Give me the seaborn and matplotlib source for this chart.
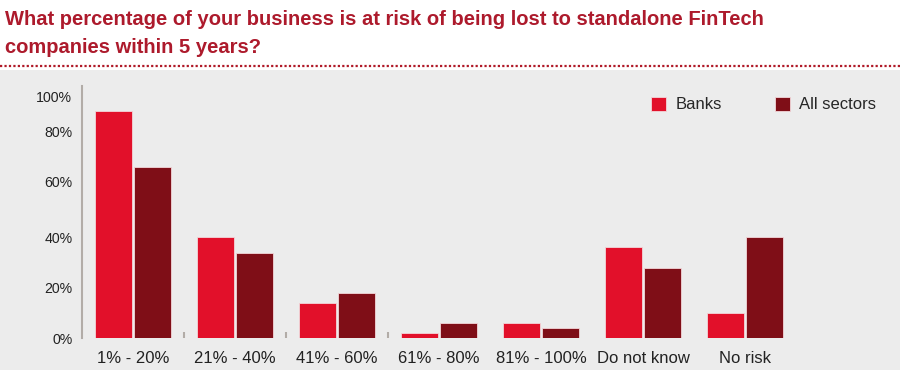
import matplotlib
matplotlib.use("Agg")
import matplotlib.pyplot as plt
from matplotlib.lines import Line2D
from matplotlib.patches import Rectangle
import seaborn as sns
import pandas as pd

# data
categories = ["1% - 20%", "21% - 40%", "41% - 60%", "61% - 80%",
              "81% - 100%", "Do not know", "No risk"]
banks = [90, 40, 14, 2, 6, 36, 10]
all_sectors = [68, 34, 18, 6, 4, 28, 40]
series_names = ["Banks", "All sectors"]

# the y labels in the source are not evenly spaced, keep them where they sit
ytick_pos = [0, 20, 40, 62, 82, 96]
ytick_labels = ["0%", "20%", "40%", "60%", "80%", "100%"]

title = ("What percentage of your business is at risk of being lost to standalone FinTech\n"
         "companies within 5 years?")

RED = "#e2102a"
DARK = "#7f0e17"
TITLE_RED = "#ad1a2c"
BG = "#ececec"
AXIS_GREY = "#b2aca7"

df = pd.DataFrame({
    "category": categories * 2,
    "value": banks + all_sectors,
    "series": [series_names[0]] * len(categories) + [series_names[1]] * len(categories),
})

sns.set_style("white")
plt.rcParams["font.family"] = ["Liberation Sans", "DejaVu Sans"]

fig = plt.figure(figsize=(9, 3.7), dpi=100)
fig.patch.set_facecolor("white")
# grey panel under the chart
fig.patches.append(Rectangle((0, 0), 1, 300 / 370, transform=fig.transFigure,
                             facecolor=BG, edgecolor="none", zorder=-5))
# dotted red rule under the title
fig.add_artist(Line2D([0, 1], [1 - 66 / 370] * 2, transform=fig.transFigure,
                      color="#b01a28", lw=1.6, ls=(0, (1, 1)), zorder=-4))

ax = fig.add_axes([82 / 900, 1 - 338.3 / 370, 714 / 900, 252.3 / 370])
ax.set_facecolor("none")
ax.set_zorder(2)

sns.barplot(data=df, x="category", y="value", hue="series",
            palette={"Banks": RED, "All sectors": DARK}, saturation=1,
            width=0.765, gap=0.05, errorbar=None, ax=ax,
            edgecolor="#f3d6d9", linewidth=0.6)

handles, labels = ax.get_legend_handles_labels()
ax.get_legend().remove()

ax.set_xlim(-0.5, len(categories) - 0.5)
ax.set_ylim(0, 100)
ax.set_xlabel("")
ax.set_ylabel("")

ax.set_yticks(ytick_pos)
ax.set_yticklabels(ytick_labels)
ax.tick_params(axis="y", length=0, pad=7, labelsize=10.2, labelcolor="#222222")
ax.tick_params(axis="x", which="major", length=0, pad=9, labelsize=12,
               labelcolor="#222222")
ax.set_xticks([0.5, 1.5, 2.5], minor=True)
ax.tick_params(axis="x", which="minor", bottom=True, direction="in", length=4.5,
               width=1.5, color=AXIS_GREY)

for side in ["top", "right", "bottom"]:
    ax.spines[side].set_visible(False)
ax.spines["left"].set_color(AXIS_GREY)
ax.spines["left"].set_linewidth(1.5)

fig.legend(handles, labels, loc="center left",
           bbox_to_anchor=(651 / 900, 1 - 104.5 / 370), ncol=2, frameon=False,
           fontsize=12, handlelength=0.9, handleheight=0.9, handletextpad=0.55,
           columnspacing=3.2, borderpad=0, borderaxespad=0)

fig.text(5 / 900, 1 - 10 / 370, title, ha="left", va="top", fontsize=14.5,
         fontweight="bold", color=TITLE_RED, linespacing=1.62)

fig.savefig("out.png", dpi=100)
